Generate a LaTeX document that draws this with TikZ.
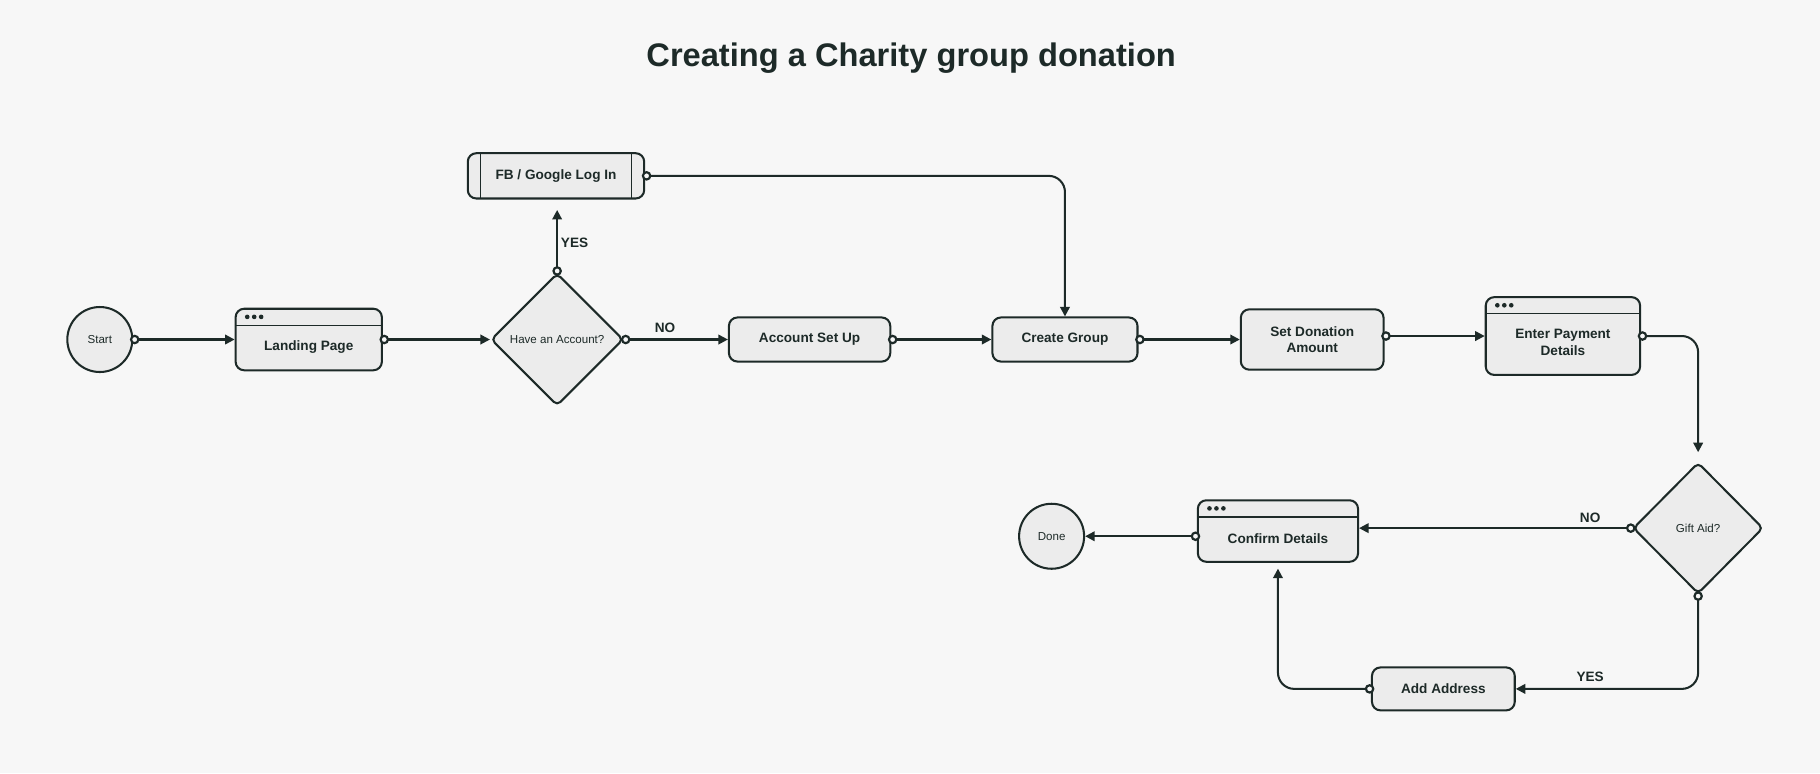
\documentclass[tikz,border=0pt]{standalone}
\usepackage{fontspec}
\setmainfont{Liberation Sans}
\usetikzlibrary{shapes.geometric}
\usetikzlibrary{arrows.meta}
\definecolor{ink}{HTML}{1D2A28}
\definecolor{boxfill}{HTML}{ECECEC}
\definecolor{paper}{HTML}{F7F7F7}

\begin{document}
\begin{tikzpicture}[x=0.03cm,y=-0.03cm,
  box/.style={draw=ink,fill=boxfill,line width=1.5pt,rounded corners=0.22cm,inner sep=0pt,
    align=center,text=ink,font=\bfseries\fontsize{10}{12}\selectfont},
  winbox/.style={box,path picture={
    \draw[ink,line width=0.9pt] ([yshift=-0.43cm]path picture bounding box.north west)--([yshift=-0.43cm]path picture bounding box.north east);
    \foreach \i in {0,1,2} \fill[ink] ([xshift=0.3cm+\i*0.18cm,yshift=-0.21cm]path picture bounding box.north west) circle (0.06cm);}},
  procbox/.style={box,path picture={
    \draw[ink,line width=1.2pt] ([xshift=0.33cm]path picture bounding box.north west)--([xshift=0.33cm]path picture bounding box.south west);
    \draw[ink,line width=1.2pt] ([xshift=-0.33cm]path picture bounding box.north east)--([xshift=-0.33cm]path picture bounding box.south east);}},
  decision/.style={diamond,aspect=1,draw=ink,fill=boxfill,line width=1.5pt,rounded corners=0.12cm,inner sep=0pt,
    text=ink,font=\fontsize{8.5}{10}\selectfont},
  term/.style={circle,draw=ink,fill=boxfill,line width=1.5pt,minimum size=1.68cm,inner sep=0pt,
    text=ink,font=\fontsize{8.5}{10}\selectfont},
  lbl/.style={text=ink,font=\bfseries\fontsize{10}{12}\selectfont},
  flow/.style={draw=ink,line width=1.5pt,rounded corners=0.42cm,shorten <=-2.5pt,
    {Circle[length=7pt,width=7pt,line width=1.6pt,fill=paper]}-{Triangle[length=7pt,width=7pt]}}]
  \fill[paper] (0,0) rectangle (1568,666);
  \node[text=ink,font=\bfseries\fontsize{24}{28}\selectfont] (title) at (785,50) {Creating a Charity group donation};

  \node[term] (st) at (86,292.5) {Start};
  \node[winbox,minimum width=3.78cm,minimum height=1.59cm] (lp) at (266,292.5)
    {\raisebox{-0.2cm}[\height][\depth]{Landing Page}};
  \node[decision,minimum width=3.42cm,minimum height=3.42cm] (ha) at (480,292.5) {Have an Account?};
  \node[procbox,minimum width=4.56cm,minimum height=1.17cm] (fb) at (479,151.5) {FB / Google Log In};
  \node[box,minimum width=4.17cm,minimum height=1.14cm] (as) at (697.5,292.5) {Account Set Up};
  \node[box,minimum width=3.75cm,minimum height=1.14cm] (cg) at (917.5,292.5) {Create Group};
  \node[box,minimum width=3.69cm,minimum height=1.56cm] (sd) at (1130.5,292.5) {Set Donation\\Amount};
  \node[winbox,minimum width=3.99cm,minimum height=2.01cm] (ep) at (1346.5,289.5)
    {\raisebox{-0.2cm}[\height][\depth]{\begin{tabular}{@{}c@{}}Enter Payment\\Details\end{tabular}}};
  \node[decision,minimum width=3.36cm,minimum height=3.39cm] (ga) at (1463,455) {Gift Aid?};
  \node[winbox,minimum width=4.14cm,minimum height=1.59cm] (cd) at (1101,457.5)
    {\raisebox{-0.2cm}[\height][\depth]{Confirm Details}};
  \node[term] (dn) at (906,462) {Done};
  \node[box,minimum width=3.69cm,minimum height=1.11cm] (aa) at (1243.5,593.5) {Add Address};

  \node[lbl] (yes1) at (495,209) {YES};
  \node[lbl] (no1) at (573,282) {NO};
  \node[lbl] (no2) at (1370,446) {NO};
  \node[lbl] (yes2) at (1370,583) {YES};

  \draw[flow] (st.east) -- (lp.west);
  \draw[flow] (lp.east) -- (ha.west);
  \draw[flow,shorten >=0.27cm] (ha.north) -- (ha.north |- fb.south);
  \draw[flow] (fb.east) -| (cg.north);
  \draw[flow] (ha.east) -- (as.west);
  \draw[flow] (as.east) -- (cg.west);
  \draw[flow] (cg.east) -- (sd.west);
  \draw[flow] (sd.east |- ep.west) -- (ep.west);
  \draw[flow,shorten >=0.24cm] (ep.east) -| (ga.north);
  \draw[flow] (ga.west) -- (ga.west -| cd.east);
  \draw[flow] (cd.west |- dn.east) -- (dn.east);
  \draw[flow] (ga.south) |- (aa.east);
  \draw[flow,shorten >=0.15cm] (aa.west) -| (cd.south);
\end{tikzpicture}
\end{document}
